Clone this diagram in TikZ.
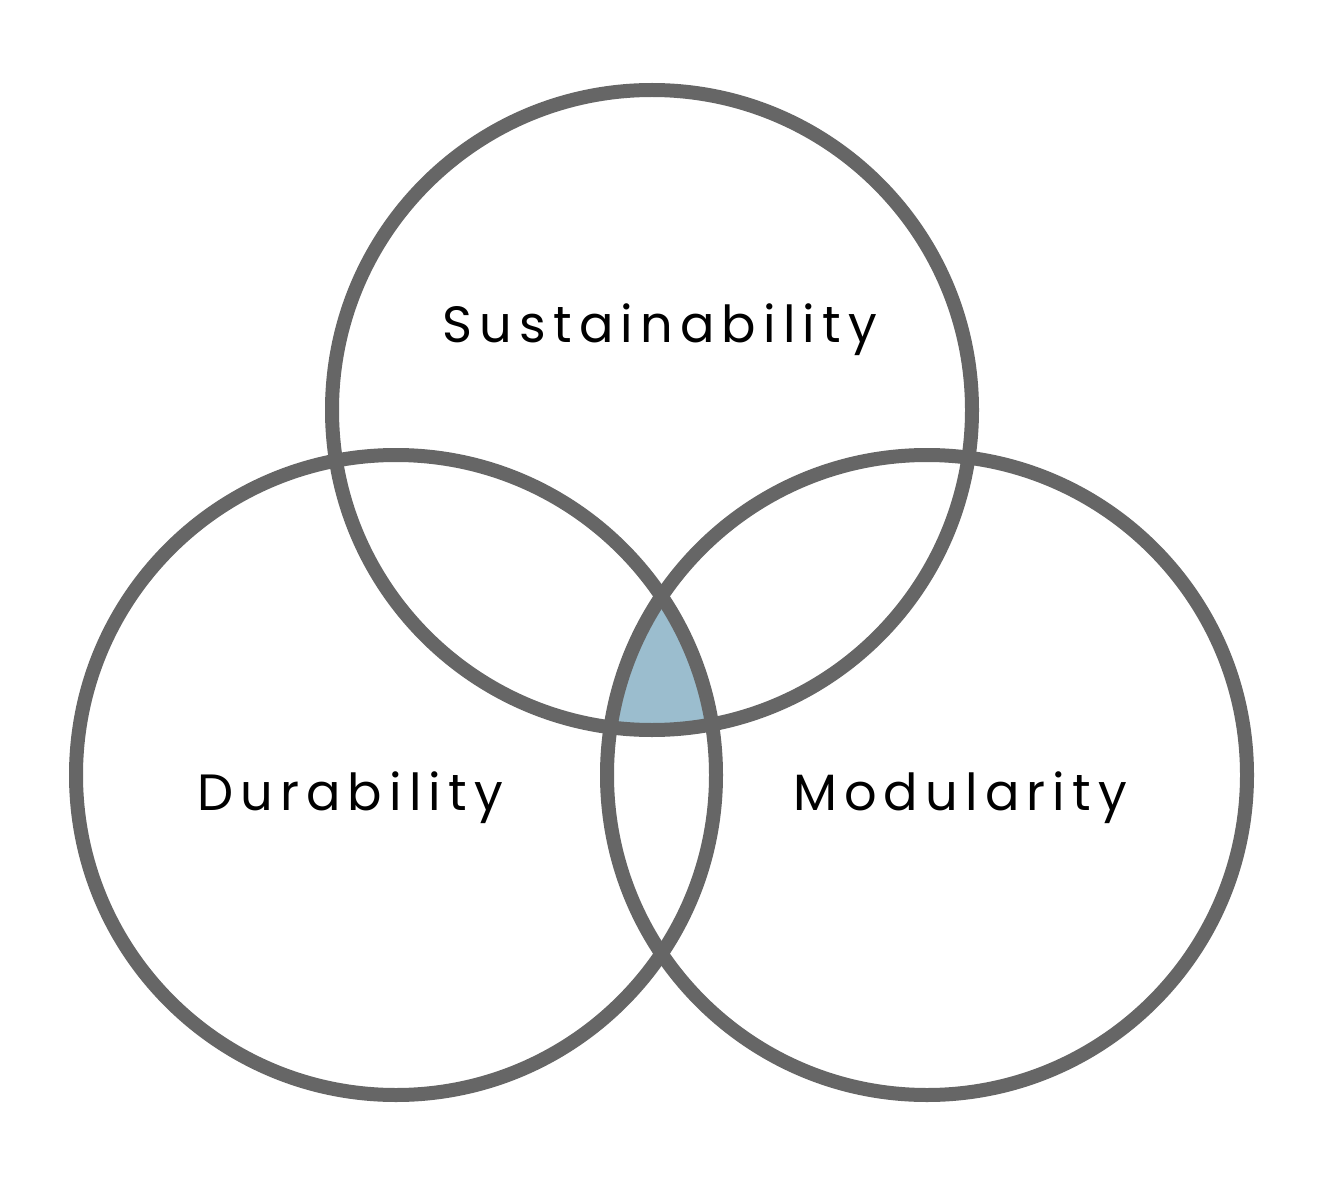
\documentclass[tikz,border=0pt]{standalone}
\usepackage{fontspec}
\newfontfamily\lbl[LetterSpace=14]{Poppins}
\definecolor{ring}{HTML}{666666}
\definecolor{core}{HTML}{9BBDCE}
\begin{document}
\begin{tikzpicture}[x=1pt,y=-1pt,
  ring/.style={draw=ring,line width=14pt},
  lab/.style={font=\lbl\fontsize{51}{60}\selectfont,anchor=base,inner sep=0pt,text=black}]
\useasboundingbox (0,0) rectangle (1328,1182);
\fill[white] (0,0) rectangle (1328,1182);
\coordinate (T) at (652,410);
\coordinate (L) at (396,775);
\coordinate (R) at (927,775);
\begin{scope}
  \clip (T) circle (320);
  \clip (L) circle (320);
  \fill[core] (R) circle (320);
\end{scope}
\draw[ring] (T) circle (320);
\draw[ring] (L) circle (320);
\draw[ring] (R) circle (320);
\node[lab] (s) at (660,342) {Sustainability};
\node[lab] (d) at (350,810) {Durability};
\node[lab] (m) at (960,810) {Modularity};
\end{tikzpicture}
\end{document}
